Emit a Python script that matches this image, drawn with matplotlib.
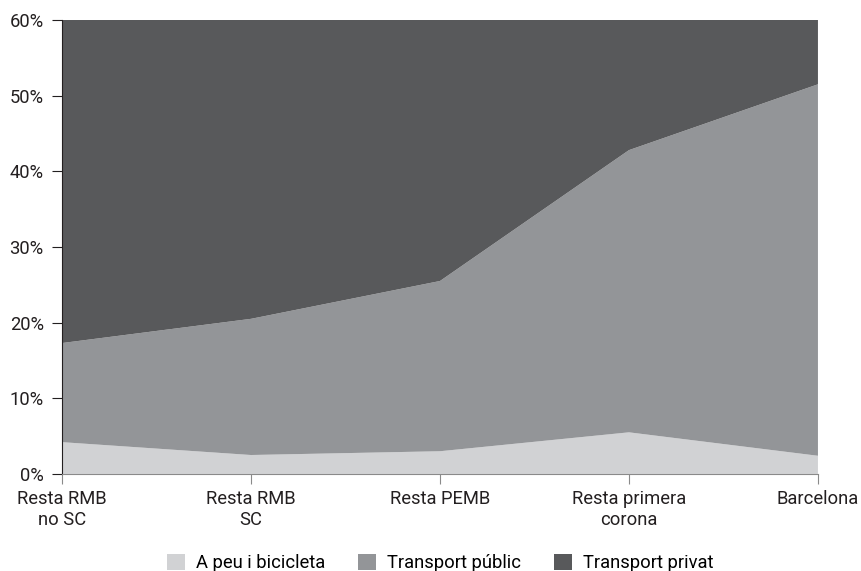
import numpy as np
import matplotlib.pyplot as plt
from matplotlib.patches import Patch

plt.rcParams['font.family'] = ['Roboto', 'DejaVu Sans']

categories = ["Resta RMB\nno SC", "Resta RMB\nSC", "Resta PEMB", "Resta primera\ncorona", "Barcelona"]
a_peu = [4.2, 2.5, 3.0, 5.5, 2.4]
public = [13.1, 18.0, 22.5, 37.3, 49.1]
privat = [82.7, 79.5, 74.5, 57.2, 48.5]
labels = ["A peu i bicicleta", "Transport públic", "Transport privat"]
colors = ["#d1d2d4", "#939598", "#58595b"]

fs = 13.2
fig = plt.figure(figsize=(8.61, 5.71), dpi=100)
ax = fig.add_axes([0.072, 0.17, 0.878, 0.795])

x = np.arange(len(categories))
ax.stackplot(x, a_peu, public, privat, colors=colors, linewidth=0)

ax.set_xlim(0, len(categories) - 1)
ax.set_ylim(0, 60)
ax.set_yticks(np.arange(0, 61, 10))
ax.set_yticklabels([f"{v}%" for v in range(0, 61, 10)])
ax.set_xticks(x)
ax.set_xticklabels(categories, linespacing=1.2)

for s in ["top", "right"]:
    ax.spines[s].set_visible(False)
ax.spines["left"].set_color("#231f20")
ax.spines["bottom"].set_color("#8a8a8a")
ax.tick_params(axis="y", length=7.2, color="#231f20", labelsize=fs, labelcolor="#231f20", pad=6)
ax.tick_params(axis="x", length=7.2, color="#8a8a8a", labelsize=fs, labelcolor="#231f20", pad=4.5)

handles = [Patch(facecolor=c, edgecolor="none") for c in colors]
fig.legend(handles, labels, loc="center", ncol=3, frameon=False,
           bbox_to_anchor=(0.511, 8 / 571), fontsize=fs, handlelength=1.0,
           handleheight=1.0, columnspacing=1.8, handletextpad=0.57,
           borderpad=0, borderaxespad=0)

fig.savefig("out.png", dpi=100)
